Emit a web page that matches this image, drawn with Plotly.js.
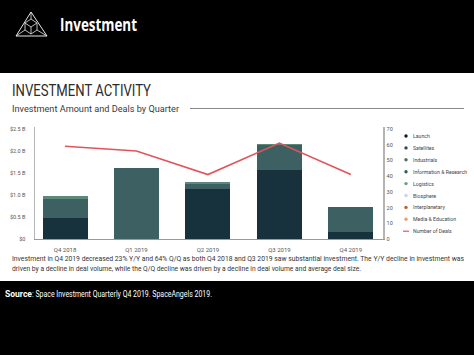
<!DOCTYPE html>
<html><head><meta charset="utf-8">
<script src="https://cdn.plot.ly/plotly-3.0.1.min.js"></script>
<style>html,body{margin:0;padding:0;background:#fff;overflow:hidden}#chart{width:474px;height:355px}</style>
</head><body><div id="chart"></div>
<script>
// ---- data ----
const quarters = ["Q4 2018", "Q1 2019", "Q2 2019", "Q3 2019", "Q4 2019"];
const launch = [0.47, 0, 1.13, 1.57, 0.17];
const satellites = [0.44, 1.61, 0.13, 0.57, 0.55];
const industrials = [0.06, 0, 0.04, 0.02, 0.01];
const deals = [59, 56, 41, 61, 41];
const leftTickVals = [0, 0.5, 1.0, 1.5, 2.0, 2.5];
const leftTickText = ["$0", "$0.5 B", "$1.0 B", "$1.5 B", "$2.0 B", "$2.5 B"];
const rightTickVals = [0, 10, 20, 30, 40, 50, 60, 70];
const legendNames = ["Launch", "Satellites", "Industrials", "Information & Research", "Logistics", "Biosphere", "Interplanetary", "Media & Education"];
const legendColors = ["#111a1e", "#2f4b4f", "#4c7267", "#2f5f4f", "#6a9f8c", "#c7d5e2", "#c0602a", "#e3a17e"];
const barColors = ["#17323d", "#3d6163", "#5b8a7b"];
const lineColor = "#e0555c";

// ---- geometry helpers (pixel -> paper) ----
const L = 35, R = 383, T = 127, B = 239;
const px = x => (x - L) / (R - L);
const py = y => (B - y) / (B - T);
const P = (x, y) => px(x) + "," + py(y);

const traces = [
  {type: "bar", name: "Launch", x: quarters, y: launch, marker: {color: barColors[0]}, showlegend: false, hoverinfo: "skip"},
  {type: "bar", name: "Satellites", x: quarters, y: satellites, marker: {color: barColors[1]}, showlegend: false, hoverinfo: "skip"},
  {type: "bar", name: "Industrials", x: quarters, y: industrials, marker: {color: barColors[2]}, showlegend: false, hoverinfo: "skip"},
  {type: "scatter", mode: "lines", name: "Number of Deals", x: quarters, y: deals, yaxis: "y2",
   line: {color: lineColor, width: 1.6}, showlegend: false, hoverinfo: "skip"}
];

const shapes = [
  {type: "rect", xref: "paper", yref: "paper", x0: px(0), x1: px(474), y0: py(0), y1: py(73), fillcolor: "#000", line: {width: 0}, layer: "below"},
  {type: "rect", xref: "paper", yref: "paper", x0: px(0), x1: px(474), y0: py(281), y1: py(355), fillcolor: "#000", line: {width: 0}, layer: "below"},
  {type: "line", xref: "paper", yref: "paper", x0: px(190), x1: px(464), y0: py(108.5), y1: py(108.5), line: {color: "#8a8a8a", width: 1}},
  // logo
  {type: "path", xref: "paper", yref: "paper", line: {color: "#e8e8e8", width: 1},
   path: "M" + P(31, 12) + " L" + P(16, 36) + " L" + P(47, 36) + " Z"},
  {type: "path", xref: "paper", yref: "paper", line: {color: "#e8e8e8", width: 0.8},
   path: "M" + P(31, 19) + " L" + P(37, 23) + " L" + P(37, 30) + " L" + P(31, 34) + " L" + P(25, 30) + " L" + P(25, 23) + " Z" +
         " M" + P(25, 23) + " L" + P(31, 27) + " L" + P(37, 23) + " M" + P(31, 27) + " L" + P(31, 34) +
         " M" + P(16, 36) + " L" + P(25, 30) + " M" + P(47, 36) + " L" + P(37, 30) + " M" + P(31, 12) + " L" + P(31, 19)}
];

// fitW: target pixel width of the rendered text (applied with SVG textLength)
const annotations = [
  {text: "Investment", x: px(58), y: py(24.5), font: {family: "Open Sans", size: 17, color: "#fff", weight: 700}, fitW: 77},
  {text: "INVESTMENT ACTIVITY", x: px(10), y: py(90.5), font: {family: "Roboto", size: 16, color: "#2b2b2b"}, fitW: 139},
  {text: "Investment Amount and Deals by Quarter", x: px(10), y: py(108.5), font: {family: "Roboto", size: 9, color: "#3a3a3a"}, fitW: 167},
  {text: "Investment in Q4 2019 decreased 23% Y/Y and 64% Q/Q as both Q4 2018 and Q3 2019 saw substantial investment. The Y/Y decline in investment was",
   x: px(10), y: py(259), font: {family: "Roboto", size: 6.6, color: "#333"}, fitW: 452},
  {text: "driven by a decline in deal volume, while the Q/Q decline was driven by a decline in deal volume and average deal size.",
   x: px(10), y: py(268.5), font: {family: "Roboto", size: 6.6, color: "#333"}, fitW: 349},
  {text: "Source", x: px(3), y: py(294), font: {family: "Roboto", size: 9, color: "#fff", weight: 700}, fitW: 27},
  {text: ": Space Investment Quarterly Q4 2019. SpaceAngels 2019.", x: px(30), y: py(294),
   font: {family: "Roboto", size: 9, color: "#fff"}, fitW: 180}
].map(a => Object.assign({xref: "paper", yref: "paper", xanchor: "left", yanchor: "middle", align: "left", showarrow: false}, a));

const fits = annotations.map(a => a.fitW || null);
annotations.forEach(a => delete a.fitW);

// manual legend
const legY0 = 136, legStep = 11.9;
legendNames.forEach((n, i) => {
  const y = legY0 + i * legStep;
  shapes.push({type: "circle", xref: "paper", yref: "paper", x0: px(404.3), x1: px(407.7), y0: py(y + 1.7), y1: py(y - 1.7),
    fillcolor: legendColors[i], line: {width: 0}});
  annotations.push({xref: "paper", yref: "paper", xanchor: "left", yanchor: "middle", showarrow: false,
    text: n, x: px(410.5), y: py(y), font: {family: "Roboto", size: 5.2, color: "#444"}});
});
{
  const y = legY0 + legendNames.length * legStep;
  shapes.push({type: "line", xref: "paper", yref: "paper", x0: px(403), x1: px(409), y0: py(y), y1: py(y), line: {color: lineColor, width: 1.2}});
  annotations.push({xref: "paper", yref: "paper", xanchor: "left", yanchor: "middle", showarrow: false,
    text: "Number of Deals", x: px(410.5), y: py(y), font: {family: "Roboto", size: 5.2, color: "#444"}});
}

const layout = {
  width: 474, height: 355,
  margin: {l: L, r: 474 - R, t: T, b: 355 - B, pad: 0},
  paper_bgcolor: "#fff", plot_bgcolor: "rgba(0,0,0,0)",
  font: {family: "Roboto", color: "#555"},
  barmode: "stack", bargap: 0.37,
  showlegend: false,
  xaxis: {type: "category", categoryorder: "array", categoryarray: quarters, range: [-0.42, 4.45],
    showline: true, linecolor: "#9a9a9a", linewidth: 1, ticks: "", showgrid: false, zeroline: false,
    tickfont: {size: 6, color: "#555"}, ticklabelstandoff: 5, fixedrange: true},
  yaxis: {range: [0, (B - T) / 44], tickvals: leftTickVals, ticktext: leftTickText,
    showline: true, linecolor: "#b4b4b4", linewidth: 1.5, ticks: "", showgrid: false, zeroline: false,
    tickfont: {size: 5.5, color: "#555"}, ticklabelstandoff: 7, fixedrange: true},
  yaxis2: {overlaying: "y", side: "right", range: [0, (B - T) / (110 / 70)], tickvals: rightTickVals,
    showline: true, linecolor: "#b4b4b4", linewidth: 1.5, ticks: "", showgrid: false, zeroline: false,
    tickfont: {size: 5.5, color: "#555"}, ticklabelstandoff: 1, fixedrange: true},
  shapes: shapes,
  annotations: annotations
};

function applyFits() {
  fits.forEach((w, i) => {
    if (!w) return;
    const t = document.querySelector('#chart g.annotation[data-index="' + i + '"] text.annotation-text');
    if (t) { t.setAttribute("textLength", w); t.setAttribute("lengthAdjust", "spacingAndGlyphs"); }
  });
}
Plotly.newPlot("chart", traces, layout, {displayModeBar: false, staticPlot: true}).then(() => {
  applyFits();
  document.getElementById("chart").on("plotly_afterplot", applyFits);
});
</script>
</body></html>
